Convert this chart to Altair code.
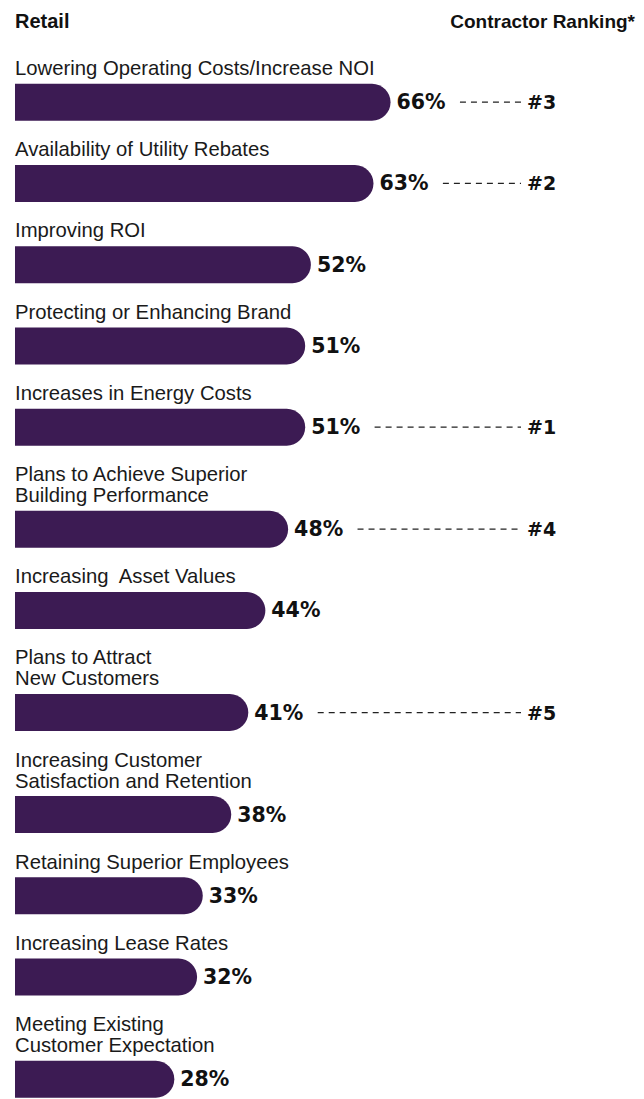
import altair as alt
import pandas as pd

# ---- data ----
categories = [
    "Lowering Operating Costs/Increase NOI",
    "Availability of Utility Rebates",
    "Improving ROI",
    "Protecting or Enhancing Brand",
    "Increases in Energy Costs",
    "Plans to Achieve Superior\nBuilding Performance",
    "Increasing\u00a0 Asset Values",
    "Plans to Attract\nNew Customers",
    "Increasing Customer\nSatisfaction and Retention",
    "Retaining Superior Employees",
    "Increasing Lease Rates",
    "Meeting Existing\nCustomer Expectation",
]
values = [66, 63, 52, 51, 51, 48, 44, 41, 38, 33, 32, 28]
ranks = ["#3", "#2", "", "", "#1", "#4", "", "#5", "", "", "", ""]
header_left = "Retail"
header_right = "Contractor Ranking*"

# ---- layout (row positions derived from the number of label lines) ----
W, H = 628, 1091
LINE = 21
BAR_H = 37
first_center = 90
rows = []
c = first_center
for i, (cat, v, r) in enumerate(zip(categories, values, ranks)):
    lines = cat.split("\n")
    if i > 0:
        c = c + 61 + LINE * len(lines)
    rows.append({
        "cat": cat,
        "lines": lines,
        "value": v,
        "pct": f"{v}%",
        "rank": r,
        "yc": c,
        "ylab": c - 27.5 - LINE * (len(lines) - 1),
    })
df = pd.DataFrame(rows)

xs = alt.Scale(domain=[-1.23, 109.14], nice=False, zero=False)
ys = alt.Scale(domain=[0, H], reverse=True, nice=False, zero=False)

base = alt.Chart(df)

bars = base.mark_bar(
    orient="horizontal", color="#3c1b53", size=BAR_H,
    cornerRadiusTopRight=18.5, cornerRadiusBottomRight=18.5,
).encode(
    x=alt.X("value:Q", scale=xs, axis=None),
    x2=alt.datum(0),
    y=alt.Y("yc:Q", scale=ys, axis=None),
)

pct = base.mark_text(
    align="left", baseline="middle", dx=6, dy=1,
    font="DejaVu Sans", fontWeight="bold", fontSize=20.5, color="#111111",
).encode(
    x=alt.X("value:Q", scale=xs),
    y=alt.Y("yc:Q", scale=ys),
    text="pct:N",
)

labels = base.mark_text(
    align="left", baseline="alphabetic", lineHeight=LINE,
    font="Liberation Sans", fontSize=20.3, color="#1a1a1a",
).encode(
    x=alt.value(7),
    y=alt.Y("ylab:Q", scale=ys),
    text="lines",
)

ranked = base.transform_filter("datum.rank != ''").transform_calculate(
    dash_start="datum.value + 12.2"
)

dashes = ranked.mark_rule(
    strokeDash=[6, 5], strokeWidth=1.2, color="#222222"
).encode(
    x=alt.X("dash_start:Q", scale=xs),
    x2=alt.value(513),
    y=alt.Y("yc:Q", scale=ys),
)

rank_text = ranked.mark_text(
    align="left", baseline="middle", dy=1,
    font="DejaVu Sans", fontWeight="bold", fontSize=19, color="#111111",
).encode(
    x=alt.value(519),
    y=alt.Y("yc:Q", scale=ys),
    text="rank:N",
)

hdr = pd.DataFrame({
    "t": [header_left, header_right],
    "side": ["left", "right"],
})
hdr_left = alt.Chart(hdr).transform_filter("datum.side == 'left'").mark_text(
    align="left", baseline="alphabetic",
    font="Liberation Sans", fontWeight="bold", fontSize=20, color="#111111",
).encode(x=alt.value(7), y=alt.value(20), text="t:N")
hdr_right = alt.Chart(hdr).transform_filter("datum.side == 'right'").mark_text(
    align="right", baseline="alphabetic",
    font="Liberation Sans", fontWeight="bold", fontSize=19, color="#111111",
).encode(x=alt.value(627), y=alt.value(20), text="t:N")

chart = alt.layer(
    bars, pct, labels, dashes, rank_text, hdr_left, hdr_right
).properties(
    width=W, height=H, autosize=alt.AutoSizeParams(type="none"), padding=0,
).configure_view(stroke=None)

chart.save("out.html", embed_options={"renderer": "svg", "actions": False})
